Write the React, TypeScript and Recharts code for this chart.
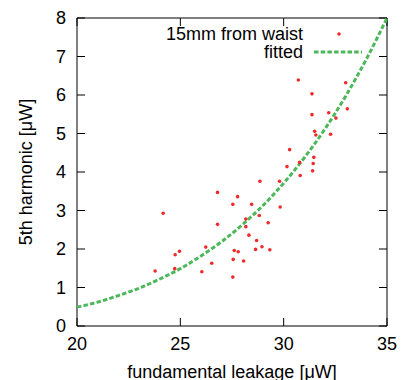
import { Legend, Scatter, ScatterChart, XAxis, YAxis } from "recharts";

// measured points (fundamental leakage, 5th harmonic), both in µW
const leakage = [
  30.71, 33.0, 31.37, 31.37, 32.18, 33.08, 32.53, 31.5, 31.56, 32.27, 30.29, 30.16,
  30.77, 31.46, 31.43, 31.4, 30.8, 29.8, 28.85, 29.83, 26.8, 27.77, 27.54, 28.45,
  28.82, 28.17, 28.17, 29.25, 26.8, 24.17, 28.32, 28.69, 28.95, 29.33, 28.64, 27.61,
  27.8, 27.56, 28.06, 27.54, 26.23, 26.52, 26.04, 24.96, 24.75, 24.73, 23.78,
];
const harmonic = [
  6.39, 6.32, 6.03, 5.49, 5.54, 5.64, 5.4, 5.06, 4.96, 4.98, 4.58, 4.14,
  4.25, 4.38, 4.22, 4.03, 3.91, 3.76, 3.76, 3.09, 3.47, 3.36, 3.16, 3.16,
  2.87, 2.78, 2.58, 2.68, 2.64, 2.93, 2.36, 2.22, 2.06, 1.98, 1.99, 1.96,
  1.93, 1.73, 1.69, 1.27, 2.05, 1.63, 1.41, 1.94, 1.85, 1.49, 1.43,
];

// fitted curve
const fitLeakage = [20, 21, 22, 23, 24, 25, 26, 27, 28, 29, 30, 31, 32, 33, 34, 35];
const fitHarmonic = [
  0.49, 0.62, 0.79, 0.98, 1.22, 1.49, 1.82, 2.19, 2.63, 3.13, 3.71, 4.37, 5.12, 5.97,
  6.93, 8.0,
];

const xDomain = [20, 35];
const yDomain = [0, 8];
const xTicks = [20, 25, 30, 35];
const yTicks = [0, 1, 2, 3, 4, 5, 6, 7, 8];

const measured = leakage.map((x, i) => ({ x, y: harmonic[i] }));
const fitted = fitLeakage.map((x, i) => ({ x, y: fitHarmonic[i] }));
// mirrored tick positions along the top and right edges of the frame
const topEdge = xTicks.map((x) => ({ x, y: yDomain[1] }));
const rightEdge = yTicks.map((y) => ({ x: xDomain[1], y }));

const FONT = "'Liberation Sans', Arial, sans-serif";
const RED = "#ee2a2a";
const GREEN = "#4cb85a";
const TICK = 8;

function Dot(props: any) {
  return <circle cx={props.cx} cy={props.cy} r={1.8} fill={RED} />;
}

function Nothing() {
  return <g />;
}

function TopMark({ cx, cy }: any) {
  return <line x1={cx} y1={cy} x2={cx} y2={cy + TICK} stroke="#000" />;
}

function RightMark({ cx, cy }: any) {
  return <line x1={cx} y1={cy} x2={cx - TICK} y2={cy} stroke="#000" />;
}

// gnuplot-style ticks: short marks pointing into the plot
function BottomTick({ x, y, payload }: any) {
  return (
    <g>
      <line x1={x} y1={y - 11} x2={x} y2={y - 11 - TICK} stroke="#000" />
      <text x={x} y={y} dy="0.71em" textAnchor="middle" fontSize={18} fontFamily={FONT} fill="#000">
        {payload.value}
      </text>
    </g>
  );
}

function LeftTick({ x, y, payload }: any) {
  return (
    <g>
      <line x1={x + 11} y1={y} x2={x + 11 + TICK} y2={y} stroke="#000" />
      <text x={x} y={y} dy="0.355em" textAnchor="end" fontSize={18} fontFamily={FONT} fill="#000">
        {payload.value}
      </text>
    </g>
  );
}

function Key() {
  return (
    <svg width={401} height={70} style={{ display: "block" }}>
      <text x={303} y={34} textAnchor="end" dominantBaseline="central" fontSize={18} fontFamily={FONT}>
        15mm from waist
      </text>
      <circle cx={339} cy={34} r={1.8} fill={RED} />
      <text x={303} y={52} textAnchor="end" dominantBaseline="central" fontSize={18} fontFamily={FONT}>
        fitted
      </text>
      <line x1={314} y1={52} x2={362} y2={52} stroke={GREEN} strokeWidth={3} strokeDasharray="4.5 2.2" />
    </svg>
  );
}

export default function App() {
  return (
    <div style={{ position: "absolute", left: 0, top: 0, background: "#fff" }}>
      <ScatterChart width={401} height={380} margin={{ top: 18, right: 14, bottom: 0, left: 0 }}>
        <XAxis
          type="number"
          dataKey="x"
          domain={xDomain}
          ticks={xTicks}
          height={54}
          stroke="#000"
          tickLine={false}
          tickSize={0}
          tickMargin={11}
          tick={BottomTick}
          label={{
            value: "fundamental leakage [μW]",
            position: "insideBottom",
            offset: 2,
            fontSize: 18,
            fill: "#000",
            fontFamily: FONT,
          }}
        />
        <YAxis
          type="number"
          dataKey="y"
          domain={yDomain}
          ticks={yTicks}
          width={77}
          stroke="#000"
          tickLine={false}
          tickSize={0}
          tickMargin={11}
          tick={LeftTick}
          label={{
            value: "5th harmonic [μW]",
            content: ({ viewBox }: any) => {
              const cy = viewBox.y + viewBox.height / 2;
              return (
                <text
                  x={26}
                  y={cy}
                  transform={`rotate(-90, 26, ${cy})`}
                  textAnchor="middle"
                  dominantBaseline="central"
                  fontSize={18}
                  fontFamily={FONT}
                  fill="#000"
                >
                  5th harmonic [μW]
                </text>
              );
            },
          }}
        />
        <Legend
          layout="horizontal"
          verticalAlign="middle"
          align="center"
          content={Key}
          wrapperStyle={{ left: 0, top: 0, width: 401, height: 70 }}
        />
        {/* top and right edges of the frame with their inward ticks */}
        <Scatter
          name="top edge"
          data={topEdge}
          fill="#000"
          shape={TopMark}
          line={{ stroke: "#000", strokeWidth: 1 }}
          legendType="none"
          isAnimationActive={false}
        />
        <Scatter
          name="right edge"
          data={rightEdge}
          fill="#000"
          shape={RightMark}
          line={{ stroke: "#000", strokeWidth: 1 }}
          legendType="none"
          isAnimationActive={false}
        />
        <Scatter
          name="fitted"
          data={fitted}
          fill={GREEN}
          shape={Nothing}
          line={{ stroke: GREEN, strokeWidth: 3, strokeDasharray: "4.5 2.2" }}
          lineJointType="monotoneX"
          isAnimationActive={false}
        />
        <Scatter
          name="15mm from waist"
          data={measured}
          fill={RED}
          shape={Dot}
          isAnimationActive={false}
        />
      </ScatterChart>
    </div>
  );
}
